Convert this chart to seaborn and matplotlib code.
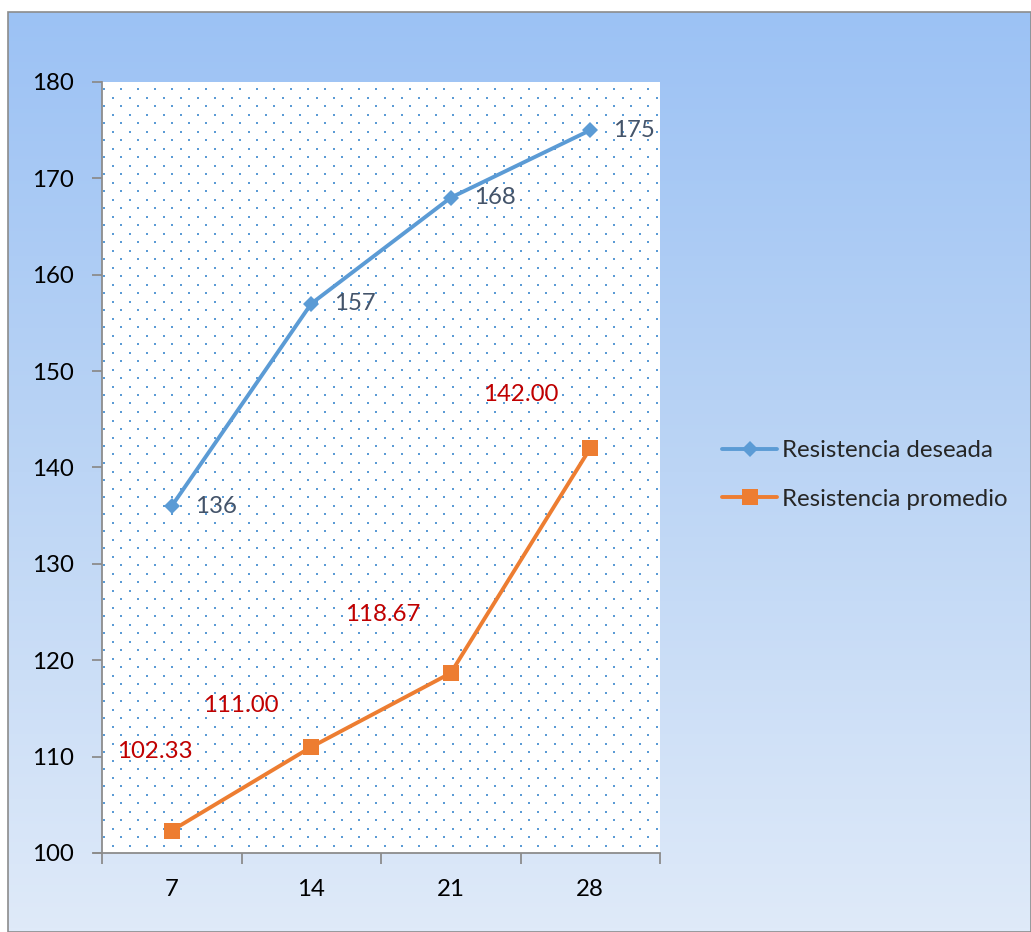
import numpy as np
import pandas as pd
import matplotlib
matplotlib.use("Agg")
import matplotlib.pyplot as plt
from matplotlib.colors import LinearSegmentedColormap
from matplotlib.patches import Rectangle
from matplotlib.lines import Line2D
import seaborn as sns

# Data
edades = ["7", "14", "21", "28"]
resistencia_deseada = [136, 157, 168, 175]
resistencia_promedio = [102.33, 111.00, 118.67, 142.00]
yticks = [100, 110, 120, 130, 140, 150, 160, 170, 180]

BLUE = "#5B9BD5"
ORANGE = "#ED7D31"
LABEL_BLUE = "#44546A"
LABEL_RED = "#C00000"

sns.set_theme(style="white")
plt.rcParams["font.family"] = ["Lato", "DejaVu Sans"]
FS = 17.3

W, H = 1031, 932
fig = plt.figure(figsize=(W / 100, H / 100), dpi=100)
fig.patch.set_facecolor("white")

# Gradient chart area
bg = fig.add_axes([8 / W, 0, 1 - 8 / W, 1 - 12 / H], zorder=0)
cmap = LinearSegmentedColormap.from_list("bg", ["#9CC2F4", "#BCD5F5", "#DFEAF9"])
grad = np.linspace(0, 1, 256).reshape(-1, 1)
bg.imshow(grad, aspect="auto", cmap=cmap, extent=[0, 1, 0, 1], origin="upper")
bg.add_patch(Rectangle((0, 0), 1, 1, transform=bg.transAxes, fill=False,
                       edgecolor="#8C8C8C", linewidth=1.2, clip_on=False))
bg.set_axis_off()

# Plot area
ax = fig.add_axes([102 / W, 79 / H, 558 / W, 771 / H], zorder=1)
ax.set_facecolor("white")

# Dotted fill pattern
pw, ph = 558, 771
xs, ys = [], []
row = 0
y = ph - 7
while y > 0:
    x0 = 2 if row % 2 == 0 else 10.5
    x = x0
    while x < pw:
        xs.append(x / pw)
        ys.append(y / ph)
        x += 17
    y -= 8.5
    row += 1
ax.scatter(xs, ys, transform=ax.transAxes, marker="s", s=2.6, color=BLUE,
           linewidths=0, zorder=1, clip_on=True)

df = pd.DataFrame({
    "edad": edades * 2,
    "valor": resistencia_deseada + resistencia_promedio,
    "serie": ["Resistencia deseada"] * 4 + ["Resistencia promedio"] * 4,
})
sns.lineplot(data=df, x="edad", y="valor", hue="serie", style="serie",
             palette=[BLUE, ORANGE], markers=["D", "s"], dashes=False,
             markersize=9, linewidth=2.8, ax=ax, legend=False, zorder=3,
             sort=False)
for line, ms in zip(ax.lines, [8, 12]):
    line.set_markersize(ms)
    line.set_markeredgewidth(0)

# Data labels
for i, v in enumerate(resistencia_deseada):
    ax.annotate(f"{v}", (i, v), xytext=(16.5, 0), textcoords="offset points",
                ha="left", va="center", color=LABEL_BLUE, fontsize=FS, zorder=4)
red_offsets = [(-12, 57), (-51, 30), (-49, 42), (-50, 39)]
for i, (v, off) in enumerate(zip(resistencia_promedio, red_offsets)):
    ax.annotate(f"{v:.2f}", (i, v), xytext=off, textcoords="offset points",
                ha="center", va="center", color=LABEL_RED, fontsize=FS, zorder=4)

ax.set_xlim(-0.5, 3.5)
ax.set_ylim(100, 180)
ax.set_yticks(yticks)
ax.set_xticks(range(len(edades)))
ax.set_xticklabels(edades)
ax.set_xticks(np.arange(-0.5, 3.6, 1), minor=True)
ax.set_xlabel("")
ax.set_ylabel("")

for s in ["top", "right"]:
    ax.spines[s].set_visible(False)
for s in ["left", "bottom"]:
    ax.spines[s].set_color("#8C8C8C")
    ax.spines[s].set_linewidth(1.3)
    ax.spines[s].set_zorder(5)
ax.spines["bottom"].set_bounds(-0.5, 3.5)

ax.tick_params(axis="y", which="major", direction="out", length=7, width=1.3,
               color="#8C8C8C", pad=13, labelsize=FS, labelcolor="black", left=True)
ax.tick_params(axis="x", which="major", length=0, pad=19, labelsize=FS,
               labelcolor="black")
ax.tick_params(axis="x", which="minor", direction="out", length=8, width=1.3,
               color="#8C8C8C", bottom=True)

# Extend bottom axis line left past the y axis
ax.plot([-0.5 - 9 / 139.5, -0.5], [100, 100], color="#8C8C8C", lw=1.3,
        clip_on=False, zorder=5, solid_capstyle="butt")

handles = [
    Line2D([], [], color=BLUE, lw=2.8, marker="D", markersize=8, markeredgewidth=0),
    Line2D([], [], color=ORANGE, lw=2.8, marker="s", markersize=12, markeredgewidth=0),
]
fig.legend(handles, ["Resistencia deseada", "Resistencia promedio"],
           loc="center left", bbox_to_anchor=(703 / W, 1 - 475 / H),
           frameon=False, fontsize=FS, handlelength=2.3, handletextpad=0.2,
           labelspacing=1.15, borderpad=0.3)

fig.savefig("out.png", dpi=100)
